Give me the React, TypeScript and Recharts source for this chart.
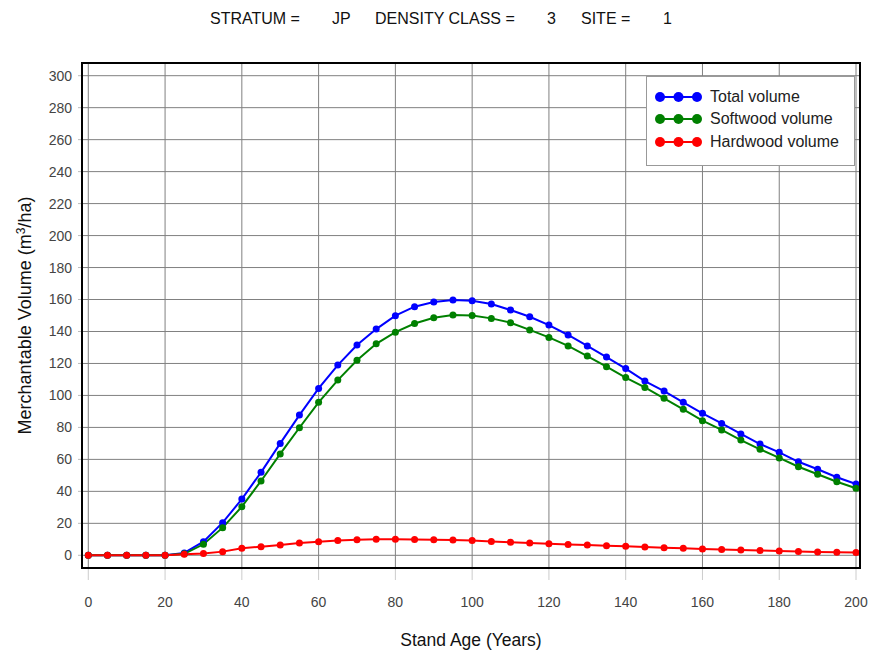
import React from 'react'
import { LineChart, Line, XAxis, YAxis, CartesianGrid, Legend } from 'recharts'

const ages = [
  0, 5, 10, 15, 20, 25, 30, 35, 40, 45, 50, 55, 60, 65, 70, 75, 80, 85, 90, 95, 100,
  105, 110, 115, 120, 125, 130, 135, 140, 145, 150, 155, 160, 165, 170, 175, 180, 185, 190, 195, 200,
]

const totalVolume = [
  0, 0, 0, 0, 0, 1.5, 8.5, 20.4, 35.2, 51.9, 70, 87.7, 104.4, 119, 131.5, 141.5, 149.9, 155.5, 158.4, 159.7, 159.2,
  157.2, 153.4, 149.2, 144, 137.8, 131, 124, 116.8, 109, 102.7, 95.7, 88.8, 82.5, 75.9, 69.6, 64.4, 58.5, 53.8, 48.8, 44.6,
]

const softwoodVolume = [
  0, 0, 0, 0, 0, 0.9, 6.9, 17.3, 30.4, 46.5, 63.4, 79.8, 95.7, 109.6, 122, 132.3, 139.6, 145, 148.6, 150.3, 150,
  148.2, 145.5, 141, 136.3, 131, 124.6, 118, 111.2, 105, 98.2, 91.3, 84.2, 78.4, 72.1, 66.3, 60.9, 55.4, 50.7, 46, 41.9,
]

const hardwoodVolume = [
  0, 0, 0, 0, 0, 0.6, 1.2, 2.3, 4.4, 5.4, 6.4, 7.7, 8.5, 9.3, 9.8, 10, 10, 9.9, 9.7, 9.5, 9.2,
  8.7, 8.2, 7.7, 7.3, 6.8, 6.4, 6.0, 5.6, 5.2, 4.8, 4.4, 4.0, 3.6, 3.3, 3.0, 2.7, 2.4, 2.1, 1.9, 1.7,
]

const xTicks = [0, 20, 40, 60, 80, 100, 120, 140, 160, 180, 200]
const yTicks = [0, 20, 40, 60, 80, 100, 120, 140, 160, 180, 200, 220, 240, 260, 280, 300]

const series = [
  { key: 'total', name: 'Total volume', color: '#0000ff' },
  { key: 'softwood', name: 'Softwood volume', color: '#008000' },
  { key: 'hardwood', name: 'Hardwood volume', color: '#ff0000' },
]

const data = ages.map((age, i) => ({
  age,
  total: totalVolume[i],
  softwood: softwoodVolume[i],
  hardwood: hardwoodVolume[i],
}))

const font = '"Liberation Sans", Arial, sans-serif'

function LegendBox() {
  return (
    <div
      style={{
        width: 209,
        height: 90,
        boxSizing: 'border-box',
        border: '1px solid #999',
        background: '#fff',
        fontFamily: font,
        fontSize: 16,
        color: '#222',
        paddingTop: 8.5,
      }}
    >
      {series.map((s) => (
        <div key={s.key} style={{ display: 'flex', alignItems: 'center', height: 22.5 }}>
          <svg width={60} height={12} style={{ marginLeft: 7 }}>
            <line x1={6} y1={6} x2={43} y2={6} stroke={s.color} strokeWidth={2} />
            {[6, 24.5, 43].map((cx) => (
              <circle key={cx} cx={cx} cy={6} r={5} fill={s.color} />
            ))}
          </svg>
          <span style={{ marginLeft: -4 }}>{s.name}</span>
        </div>
      ))}
    </div>
  )
}

function YLabel(props: any) {
  return (
    <text
      x={0}
      y={0}
      transform="translate(31, 315.5) rotate(-90)"
      textAnchor="middle"
      fontSize={18}
      fill="#111"
      fontFamily={font}
    >
      Merchantable Volume (m<tspan dy={-6} fontSize={12}>3</tspan><tspan dy={6}>/ha)</tspan>
    </text>
  )
}

function XLabel(props: any) {
  return (
    <text x={471} y={646} textAnchor="middle" fontSize={17.5} fill="#111" fontFamily={font}>
      Stand Age (Years)
    </text>
  )
}

const titleParts = [
  { text: 'STRATUM =', x: 210 },
  { text: 'JP', x: 332 },
  { text: 'DENSITY CLASS =', x: 375 },
  { text: '3', x: 547 },
  { text: 'SITE =', x: 581 },
  { text: '1', x: 663 },
]

export default function App() {
  return (
    <div style={{ position: 'absolute', left: 0, top: 0, width: 870, height: 653, background: '#fff' }}>
      {titleParts.map((p) => (
        <div
          key={p.text}
          style={{
            position: 'absolute',
            left: p.x,
            top: 10,
            fontFamily: font,
            fontSize: 16,
            color: '#111',
            whiteSpace: 'pre',
          }}
        >
          {p.text}
        </div>
      ))}
      <LineChart
        width={870}
        height={653}
        data={data}
        margin={{ top: 63, right: 10, bottom: 0, left: 0 }}
        style={{ fontFamily: font }}
      >
        <CartesianGrid stroke="#808080" strokeWidth={1} />
        <XAxis
          dataKey="age"
          type="number"
          domain={[-1.64, 201.04]}
          ticks={xTicks}
          allowDataOverflow
          axisLine={false}
          tickLine={{ stroke: '#ccc' }}
          tickSize={12}
          tickMargin={17}
          height={85}
          tick={{ fill: '#444', fontSize: 14 }}
          label={<XLabel />}
        />
        <YAxis
          type="number"
          domain={[-7.94, 307.94]}
          ticks={yTicks}
          allowDataOverflow
          axisLine={false}
          tickLine={{ stroke: '#bbb' }}
          tickSize={4}
          tickMargin={6}
          width={82}
          tick={{ fill: '#444', fontSize: 14 }}
          label={<YLabel />}
        />
        <Legend
          layout="vertical"
          align="center"
          verticalAlign="middle"
          content={() => <LegendBox />}
          wrapperStyle={{ position: 'absolute', left: 646, top: 76, width: 209, height: 90 }}
        />
        {series.map((s) => (
          <Line
            key={s.key}
            type="linear"
            dataKey={s.key}
            name={s.name}
            stroke={s.color}
            strokeWidth={2}
            dot={{ r: 3.5, fill: s.color, stroke: 'none' }}
            isAnimationActive={false}
          />
        ))}
      </LineChart>
      <div
        style={{
          position: 'absolute',
          left: 81,
          top: 62,
          width: 780,
          height: 507,
          boxSizing: 'border-box',
          border: '2px solid #000',
          pointerEvents: 'none',
        }}
      />
    </div>
  )
}
